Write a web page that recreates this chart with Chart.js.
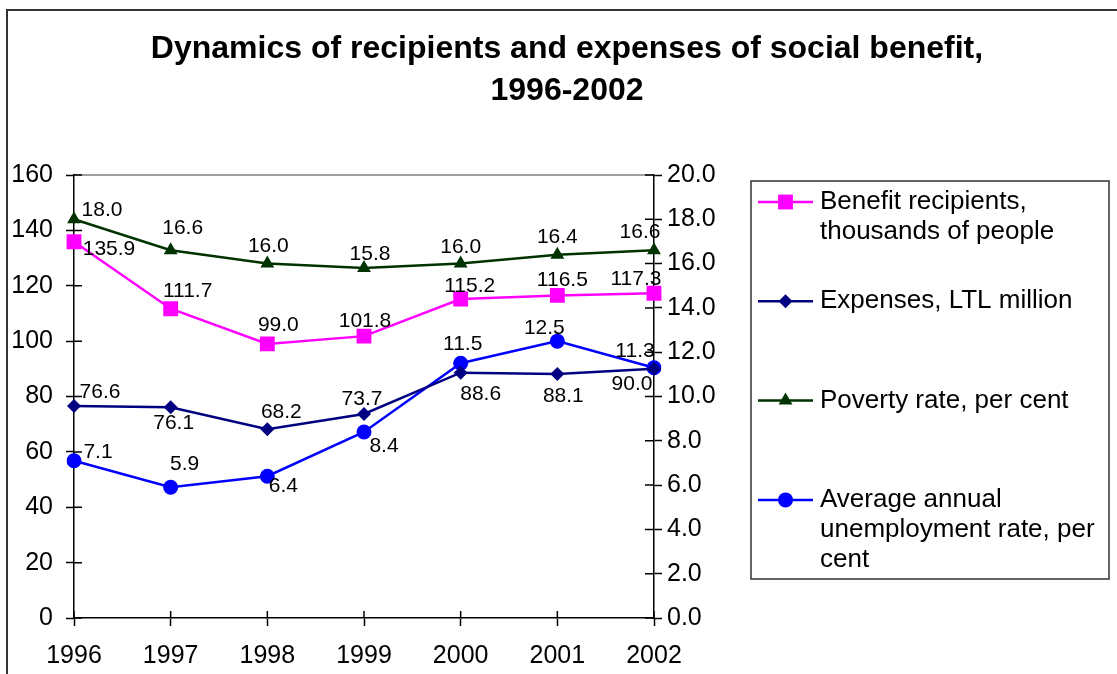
<!DOCTYPE html>
<html>
<head>
<meta charset="utf-8">
<script src="https://cdn.jsdelivr.net/npm/chart.js@4.4.1/dist/chart.umd.min.js"></script>
<style>
  body { margin: 0; background: #fff; overflow: hidden; }
  #frame { position: absolute; left: 6px; top: 9px; width: 1300px; height: 900px; border: 2px solid #333; }
  #chart { position: absolute; left: 0; top: 0; }
</style>
</head>
<body>
<div id="frame"></div>
<canvas id="chart" width="1117" height="674"></canvas>
<script>
const years = ['1996', '1997', '1998', '1999', '2000', '2001', '2002'];
const recipients = [135.9, 111.7, 99.0, 101.8, 115.2, 116.5, 117.3];
const expenses = [76.6, 76.1, 68.2, 73.7, 88.6, 88.1, 90.0];
const poverty = [18.0, 16.6, 16.0, 15.8, 16.0, 16.4, 16.6];
const unemployment = [7.1, 5.9, 6.4, 8.4, 11.5, 12.5, 11.3];

const legendLines = [
  ['Benefit recipients,', 'thousands of people'],
  ['Expenses, LTL million'],
  ['Poverty rate, per cent'],
  ['Average annual', 'unemployment rate, per', 'cent']
];

// where each value label sits relative to its point (dx, dy)
const labelOffsets = [
  [[35, 7], [17, -18], [11, -19], [1, -15], [9, -13], [5, -15], [-18, -14]],
  [[26, -14], [3, 16], [14, -17], [-2, -15], [20, 22], [6, 22], [-22, 15]],
  [[28, -9], [12, -22], [1, -17], [6, -14], [0, -16], [0, -18], [-14, -18]],
  [[24, -9], [14, -23], [16, 10], [20, 14], [2, -19], [-13, -13], [-19, -17]]
];

const FONT = "'Liberation Sans', Arial, sans-serif";

const plotFrame = {
  id: 'plotFrame',
  beforeDraw(chart) {
    const {ctx, chartArea: a} = chart;
    ctx.save();
    ctx.strokeStyle = '#808080';
    ctx.lineWidth = 1.5;
    ctx.beginPath();
    ctx.moveTo(a.left, a.top);
    ctx.lineTo(a.right, a.top);
    ctx.stroke();
    ctx.restore();
  },
  beforeDatasetsDraw(chart) {
    // inner half of the crossing tick marks
    const {ctx, chartArea: a, scales} = chart;
    ctx.save();
    ctx.strokeStyle = '#000';
    ctx.lineWidth = 1.5;
    ctx.beginPath();
    scales.y.ticks.forEach((t, i) => {
      const y = scales.y.getPixelForTick(i);
      ctx.moveTo(a.left, y); ctx.lineTo(a.left + 8, y);
    });
    scales.y1.ticks.forEach((t, i) => {
      const y = scales.y1.getPixelForTick(i);
      ctx.moveTo(a.right, y); ctx.lineTo(a.right - 9, y);
    });
    scales.x.ticks.forEach((t, i) => {
      const x = scales.x.getPixelForTick(i);
      ctx.moveTo(x, a.bottom); ctx.lineTo(x, a.bottom - 7);
    });
    ctx.stroke();
    ctx.restore();
  }
};

const valueLabels = {
  id: 'valueLabels',
  afterDatasetsDraw(chart) {
    const ctx = chart.ctx;
    ctx.save();
    ctx.font = '21px ' + FONT;
    ctx.fillStyle = '#000';
    ctx.textAlign = 'center';
    ctx.textBaseline = 'middle';
    chart.data.datasets.forEach((ds, di) => {
      chart.getDatasetMeta(di).data.forEach((pt, i) => {
        const off = labelOffsets[di][i];
        ctx.fillText(ds.data[i].toFixed(1), pt.x + off[0], pt.y + off[1]);
      });
    });
    ctx.restore();
  }
};

const sideLegend = {
  id: 'sideLegend',
  afterDraw(chart) {
    const ctx = chart.ctx;
    const left = chart.chartArea.right + 97, top = 181, right = 1109, bottom = 579;
    ctx.save();
    ctx.strokeStyle = '#333';
    ctx.lineWidth = 1.5;
    ctx.strokeRect(left, top, right - left, bottom - top);
    ctx.font = '26px ' + FONT;
    ctx.textAlign = 'left';
    ctx.textBaseline = 'middle';
    chart.data.datasets.forEach((ds, i) => {
      const y = top + 21 + i * 99.3;
      ctx.strokeStyle = ds.borderColor;
      ctx.lineWidth = ds.borderWidth;
      ctx.beginPath();
      ctx.moveTo(left + 7, y);
      ctx.lineTo(left + 62, y);
      ctx.stroke();
      ctx.fillStyle = ds.backgroundColor;
      Chart.helpers.drawPoint(ctx, {pointStyle: ds.pointStyle, radius: ds.pointRadius, rotation: 0, borderWidth: 0}, left + 34.5, y);
      ctx.fillStyle = '#000';
      legendLines[i].forEach((line, j) => ctx.fillText(line, left + 69, y + j * 30));
    });
    ctx.restore();
  }
};

const tickFont = {family: FONT, size: 25};

new Chart(document.getElementById('chart'), {
  type: 'line',
  data: {
    labels: years,
    datasets: [
      {label: 'Benefit recipients, thousands of people', data: recipients, yAxisID: 'y',
        borderColor: '#FF00FF', backgroundColor: '#FF00FF', pointStyle: 'rect', pointRadius: 10.5},
      {label: 'Expenses, LTL million', data: expenses, yAxisID: 'y',
        borderColor: '#000080', backgroundColor: '#000080', pointStyle: 'rectRot', pointRadius: 7},
      {label: 'Poverty rate, per cent', data: poverty, yAxisID: 'y1',
        borderColor: '#003300', backgroundColor: '#003300', pointStyle: 'triangle', pointRadius: 8},
      {label: 'Average annual unemployment rate, per cent', data: unemployment, yAxisID: 'y1',
        borderColor: '#0000FF', backgroundColor: '#0000FF', pointStyle: 'circle', pointRadius: 7.5}
    ].map(d => Object.assign({borderWidth: 2.5, pointBorderWidth: 0, tension: 0}, d))
  },
  options: {
    responsive: false,
    animation: false,
    // negative right padding pushes the title centre a bit right, like the original
    layout: {padding: {left: 0, top: 0, right: -17, bottom: 0}},
    plugins: {
      legend: {display: false},
      tooltip: {enabled: false},
      title: {
        display: true,
        text: ['Dynamics of recipients and expenses of social benefit,', '1996-2002'],
        color: '#000',
        font: {family: FONT, size: 32, weight: 'bold', lineHeight: 42 / 32},
        padding: {top: 28.5, bottom: 62.5}
      }
    },
    scales: {
      x: {
        grid: {drawOnChartArea: false, tickLength: 8, tickColor: '#000', tickWidth: 1.5},
        border: {color: '#000', width: 1.5},
        ticks: {color: '#000', font: tickFont, padding: 15, maxRotation: 0},
        afterFit(s) { s.height = 56; }
      },
      y: {
        position: 'left', min: 0, max: 160,
        grid: {drawOnChartArea: false, tickLength: 8, tickColor: '#000', tickWidth: 1.5},
        border: {color: '#000', width: 1.5},
        ticks: {color: '#000', font: tickFont, stepSize: 20, padding: 13},
        afterFit(s) { s.width = 74; }
      },
      y1: {
        position: 'right', min: 0, max: 20,
        grid: {drawOnChartArea: false, tickLength: 8, tickColor: '#000', tickWidth: 1.5},
        border: {color: '#000', width: 1.5},
        ticks: {color: '#000', font: tickFont, stepSize: 2, padding: 5, callback: v => v.toFixed(1)},
        afterFit(s) { s.width = 480; }
      }
    }
  },
  plugins: [plotFrame, valueLabels, sideLegend]
});
</script>
</body>
</html>
